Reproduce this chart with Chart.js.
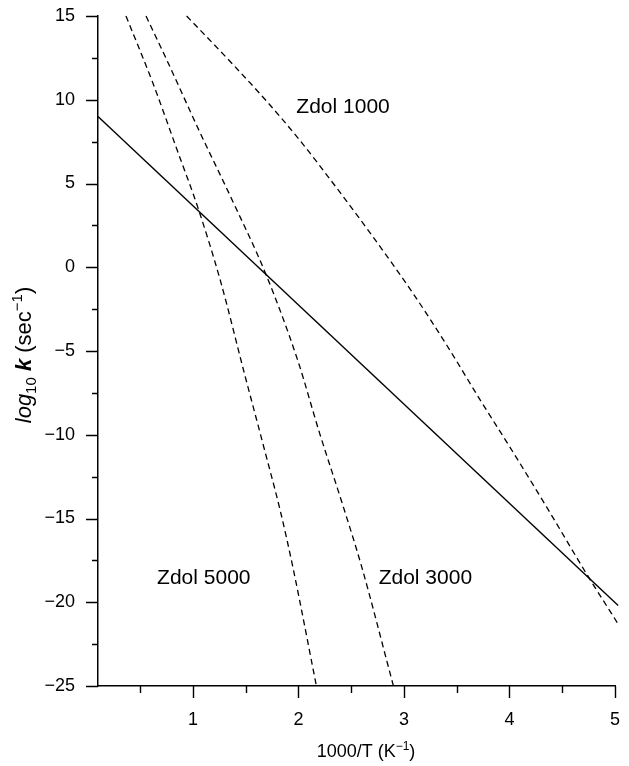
<!DOCTYPE html>
<html>
<head>
<meta charset="utf-8">
<script src="https://cdn.jsdelivr.net/npm/chart.js@4/dist/chart.umd.min.js"></script>
<style>
  html, body { margin: 0; padding: 0; background: #fff; }
  #wrap { width: 629px; height: 766px; position: relative; }
</style>
</head>
<body>
<div id="wrap"><canvas id="c"></canvas></div>
<script>
// values: x = 1000/T (K^-1), y = log10 k (sec^-1)
const arrheniusX = [0.1, 5.03];
const arrheniusY = [9.0, -20.2];

const zdol1000X = [0.94, 1.38, 1.70, 2.01, 2.33, 2.65, 3.09, 3.41, 3.72, 4.03, 4.36, 4.73, 5.03];
const zdol1000Y = [15.0, 12.1, 9.9, 7.6, 5.0, 2.3, -1.6, -4.7, -7.9, -11.0, -14.4, -18.3, -21.3];

const zdol3000X = [0.555, 0.75, 1.07, 1.38, 1.69, 1.99, 2.20, 2.42, 2.60, 2.90];
const zdol3000Y = [15.0, 12.4, 8.0, 3.9, -0.4, -5.5, -9.9, -14.2, -17.9, -25.0];

const zdol5000X = [0.365, 0.62, 0.85, 1.05, 1.26, 1.49, 1.67, 1.83, 1.95, 2.17];
const zdol5000Y = [15.0, 11.0, 7.0, 3.5, -0.8, -6.4, -10.7, -14.6, -18.0, -25.0];

const xMajorTicks = [1, 2, 3, 4, 5];
const xMinorTicks = [0.5, 1.5, 2.5, 3.5, 4.5];
const yMajorTicks = [-25, -20, -15, -10, -5, 0, 5, 10, 15];
const yMinorTicks = [-22.5, -17.5, -12.5, -7.5, -2.5, 2.5, 7.5, 12.5];

const curveLabels = [
  { text: 'Zdol 1000', x: 1.98, y: 9.2 },
  { text: 'Zdol 5000', x: 0.66, y: -18.9 },
  { text: 'Zdol 3000', x: 2.76, y: -18.9 },
];

const FONT = '"Liberation Sans", Arial, sans-serif';
const INK = '#000';

function pts(xs, ys) {
  return xs.map((x, i) => ({ x, y: ys[i] }));
}

function minus(v) {
  return v < 0 ? '\u2212' + Math.abs(v) : String(v);
}

// draws runs of text with different fonts / offsets, left to right from (x, y)
function drawRuns(ctx, runs, x, y) {
  runs.forEach((r) => {
    ctx.font = r.font;
    ctx.fillText(r.t, x, y + (r.dy || 0));
    x += ctx.measureText(r.t).width;
  });
}

function runsWidth(ctx, runs) {
  return runs.reduce((w, r) => {
    ctx.font = r.font;
    return w + ctx.measureText(r.t).width;
  }, 0);
}

const decorations = {
  id: 'decorations',
  afterDraw(chart) {
    const { ctx, chartArea, scales } = chart;
    const xs = scales.x;
    const ys = scales.y;
    ctx.save();
    ctx.strokeStyle = INK;
    ctx.lineWidth = 1.4;
    ctx.beginPath();
    xMajorTicks.concat(xMinorTicks).forEach((v) => {
      const len = xMajorTicks.includes(v) ? 12 : 7;
      const px = Math.round(xs.getPixelForValue(v)) + 0.5;
      ctx.moveTo(px, chartArea.bottom);
      ctx.lineTo(px, chartArea.bottom + len);
    });
    yMajorTicks.concat(yMinorTicks).forEach((v) => {
      const len = yMajorTicks.includes(v) ? 12 : 6;
      const py = Math.round(ys.getPixelForValue(v)) + 0.5;
      ctx.moveTo(chartArea.left, py);
      ctx.lineTo(chartArea.left - len, py);
    });
    ctx.stroke();

    ctx.fillStyle = INK;
    ctx.textBaseline = 'alphabetic';
    ctx.textAlign = 'left';
    ctx.font = '21px ' + FONT;
    curveLabels.forEach((l) => {
      ctx.fillText(l.text, xs.getPixelForValue(l.x), ys.getPixelForValue(l.y));
    });

    // x axis title
    const xRuns = [
      { t: '1000/T (K', font: '18px ' + FONT },
      { t: '\u22121', font: '12px ' + FONT, dy: -7 },
      { t: ')', font: '18px ' + FONT },
    ];
    const xw = runsWidth(ctx, xRuns);
    drawRuns(ctx, xRuns, 366 - xw / 2, 757);

    // y axis title, rotated
    const yRuns = [
      { t: 'log', font: 'italic 22px ' + FONT },
      { t: '10', font: '15px ' + FONT, dy: 5 },
      { t: ' ', font: '22px ' + FONT },
      { t: 'k', font: 'italic bold 22px ' + FONT },
      { t: ' (sec', font: '22px ' + FONT },
      { t: '\u22121', font: '15px ' + FONT, dy: -9 },
      { t: ')', font: '22px ' + FONT },
    ];
    const yw = runsWidth(ctx, yRuns);
    ctx.translate(31, 355);
    ctx.rotate(-Math.PI / 2);
    drawRuns(ctx, yRuns, -yw / 2, 0);
    ctx.restore();
  },
};

const dashed = {
  borderColor: INK,
  borderWidth: 1.3,
  borderDash: [6, 4],
  pointRadius: 0,
  cubicInterpolationMode: 'monotone',
  clip: false,
};

new Chart(document.getElementById('c'), {
  type: 'line',
  data: {
    datasets: [
      { data: pts(arrheniusX, arrheniusY), borderColor: INK, borderWidth: 1.4, pointRadius: 0, clip: false },
      { ...dashed, data: pts(zdol1000X, zdol1000Y) },
      { ...dashed, data: pts(zdol3000X, zdol3000Y) },
      { ...dashed, data: pts(zdol5000X, zdol5000Y) },
    ],
  },
  options: {
    responsive: true,
    maintainAspectRatio: false,
    animation: false,
    layout: { padding: { top: 16, right: 14, left: 0, bottom: 0 } },
    plugins: { legend: { display: false }, tooltip: { enabled: false } },
    scales: {
      x: {
        type: 'linear',
        min: 0.1,
        max: 5,
        grid: { display: false },
        border: { display: true, color: INK, width: 1.5 },
        afterBuildTicks: (s) => { s.ticks = xMajorTicks.map((v) => ({ value: v })); },
        afterFit: (s) => { s.height = 80; s.paddingLeft = 0; s.paddingRight = 0; },
        ticks: { color: INK, font: { family: FONT, size: 18 }, padding: 15, maxRotation: 0, callback: (v) => minus(v) },
      },
      y: {
        type: 'linear',
        min: -25,
        max: 15,
        grid: { display: false },
        border: { display: true, color: INK, width: 1.5 },
        afterBuildTicks: (s) => { s.ticks = yMajorTicks.map((v) => ({ value: v })); },
        afterFit: (s) => { s.width = 98; s.paddingTop = 0; s.paddingBottom = 0; },
        ticks: { color: INK, font: { family: FONT, size: 18 }, padding: 15, callback: (v) => minus(v) },
      },
    },
  },
  plugins: [decorations],
});
</script>
</body>
</html>
